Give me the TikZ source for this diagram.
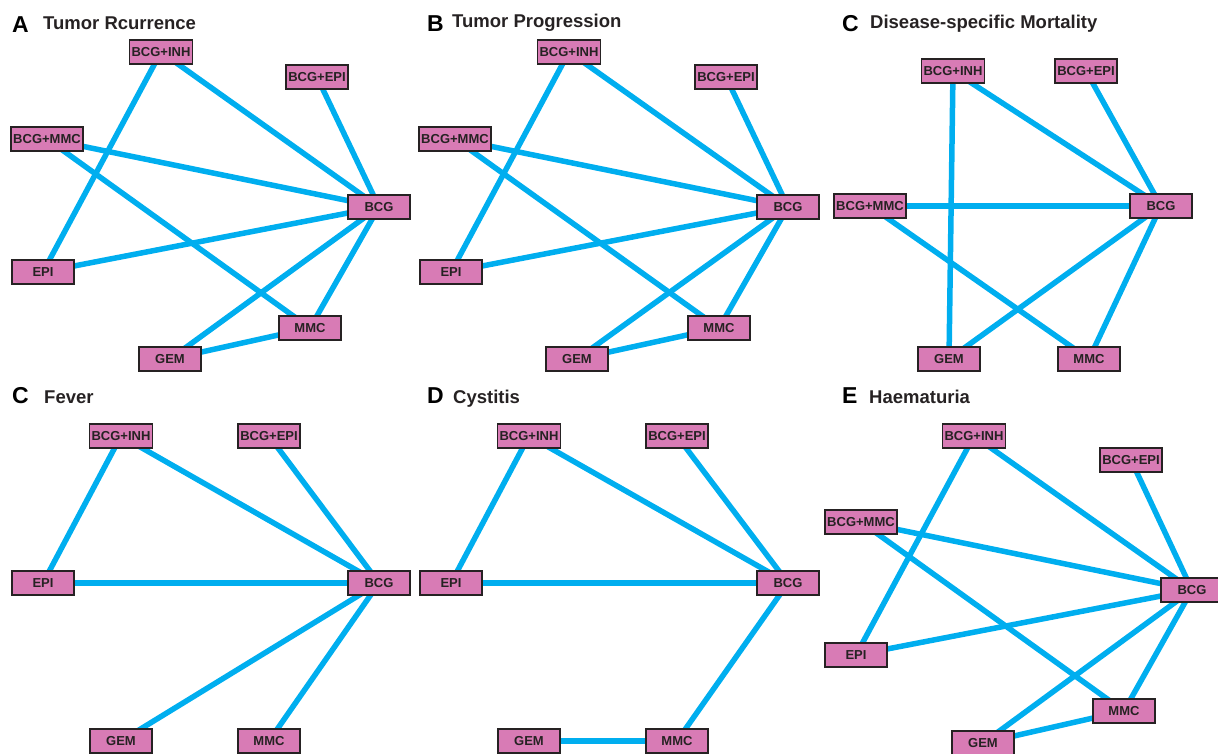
\documentclass[tikz,border=0pt]{standalone}
\usepackage{fontspec}
\setmainfont{Liberation Sans}
\usetikzlibrary{positioning}
\pgfdeclarelayer{background}
\pgfsetlayers{background,main}
\definecolor{drugfill}{HTML}{D87BB5}
\definecolor{linkcol}{HTML}{00AEEF}
\definecolor{edgecol}{HTML}{262223}
\tikzset{
    every node/.style={font=\bfseries},
    drug/.style={
        rectangle, draw=edgecol, line width=1.8pt, fill=drugfill,
        minimum width=62pt, minimum height=24pt, inner xsep=2pt,
        font=\fontsize{13}{13}\selectfont\bfseries, text=edgecol,
    },
    link/.style={linkcol, line width=5.5pt},
    panel/.style={anchor=base west, inner sep=0pt,
        font=\fontsize{23}{23}\selectfont\bfseries},
    ptitle/.style={anchor=base west, inner sep=0pt, text=edgecol,
        font=\fontsize{18.5}{18.5}\selectfont\bfseries},
}

\begin{document}
\begin{tikzpicture}[x=1pt, y=-1pt]
\useasboundingbox (0,0) rectangle (1218,753);

% ── A: Tumor Rcurrence ─────────────────────────────────────────────
\node[panel]  (tA) at (12,32) {A};
\node[ptitle] (hA) at (43,29) {Tumor Rcurrence};
\node[drug] (aInh) at (161,52)  {BCG+INH};
\node[drug] (aEpi) at (317,77)  {BCG+EPI};
\node[drug] (aMmc) at (47,139)  {BCG+MMC};
\node[drug] (aBcg) at (379,207) {BCG};
\node[drug] (aE)   at (43,272)  {EPI};
\node[drug] (aM)   at (310,328) {MMC};
\node[drug] (aG)   at (170,359) {GEM};
\begin{pgfonlayer}{background}
\foreach \u/\v in {aInh/aBcg, aInh/aE, aEpi/aBcg, aMmc/aBcg, aMmc/aM,
                   aE/aBcg, aBcg/aM, aBcg/aG, aG/aM}
    \draw[link] (\u.center) -- (\v.center);
\end{pgfonlayer}

% ── B: Tumor Progression ───────────────────────────────────────────
\node[panel]  (tB) at (427,31) {B};
\node[ptitle] (hB) at (452,27) {Tumor Progression};
\node[drug] (bInh) at (569,52)  {BCG+INH};
\node[drug] (bEpi) at (726,77)  {BCG+EPI};
\node[drug] (bMmc) at (455,139) {BCG+MMC};
\node[drug] (bBcg) at (788,207) {BCG};
\node[drug] (bE)   at (451,272) {EPI};
\node[drug] (bM)   at (719,328) {MMC};
\node[drug] (bG)   at (577,359) {GEM};
\begin{pgfonlayer}{background}
\foreach \u/\v in {bInh/bBcg, bInh/bE, bEpi/bBcg, bMmc/bBcg, bMmc/bM,
                   bE/bBcg, bBcg/bM, bBcg/bG, bG/bM}
    \draw[link] (\u.center) -- (\v.center);
\end{pgfonlayer}

% ── C: Disease-specific Mortality ──────────────────────────────────
\node[panel]  (tC) at (842,31) {C};
\node[ptitle] (hC) at (870,28) {Disease-specific Mortality};
\node[drug] (cInh) at (953,71)   {BCG+INH};
\node[drug] (cEpi) at (1086,71)  {BCG+EPI};
\node[drug] (cMmc) at (870,206)  {BCG+MMC};
\node[drug] (cBcg) at (1161,206) {BCG};
\node[drug] (cG)   at (949,359)  {GEM};
\node[drug] (cM)   at (1089,359) {MMC};
\begin{pgfonlayer}{background}
\foreach \u/\v in {cInh/cG, cInh/cBcg, cEpi/cBcg, cMmc/cBcg, cMmc/cM,
                   cBcg/cG, cBcg/cM}
    \draw[link] (\u.center) -- (\v.center);
\end{pgfonlayer}

% ── C: Fever ───────────────────────────────────────────────────────
\node[panel]  (tF) at (12,403) {C};
\node[ptitle] (hF) at (44,403) {Fever};
\node[drug] (fInh) at (121,436) {BCG+INH};
\node[drug] (fEpi) at (269,436) {BCG+EPI};
\node[drug] (fE)   at (43,583)  {EPI};
\node[drug] (fBcg) at (379,583) {BCG};
\node[drug] (fG)   at (121,741) {GEM};
\node[drug] (fM)   at (269,741) {MMC};
\begin{pgfonlayer}{background}
\foreach \u/\v in {fInh/fE, fInh/fBcg, fEpi/fBcg, fE/fBcg, fBcg/fG, fBcg/fM}
    \draw[link] (\u.center) -- (\v.center);
\end{pgfonlayer}

% ── D: Cystitis ────────────────────────────────────────────────────
\node[panel]  (tD) at (427,403) {D};
\node[ptitle] (hD) at (453,403) {Cystitis};
\node[drug] (dInh) at (529,436) {BCG+INH};
\node[drug] (dEpi) at (677,436) {BCG+EPI};
\node[drug] (dE)   at (451,583) {EPI};
\node[drug] (dBcg) at (788,583) {BCG};
\node[drug] (dG)   at (529,741) {GEM};
\node[drug] (dM)   at (677,741) {MMC};
\begin{pgfonlayer}{background}
\foreach \u/\v in {dInh/dE, dInh/dBcg, dEpi/dBcg, dE/dBcg, dBcg/dM, dG/dM}
    \draw[link] (\u.center) -- (\v.center);
\end{pgfonlayer}

% ── E: Haematuria ──────────────────────────────────────────────────
\node[panel]  (tE) at (842,403) {E};
\node[ptitle] (hE) at (869,403) {Haematuria};
\node[drug] (eInh) at (974,436)  {BCG+INH};
\node[drug] (eEpi) at (1131,460) {BCG+EPI};
\node[drug] (eMmc) at (861,522)  {BCG+MMC};
\node[drug] (eBcg) at (1192,590) {BCG};
\node[drug] (eE)   at (856,655)  {EPI};
\node[drug] (eM)   at (1124,711) {MMC};
\node[drug] (eG)   at (983,743)  {GEM};
\begin{pgfonlayer}{background}
\foreach \u/\v in {eInh/eBcg, eInh/eE, eEpi/eBcg, eMmc/eBcg, eMmc/eM,
                   eE/eBcg, eBcg/eM, eBcg/eG, eG/eM}
    \draw[link] (\u.center) -- (\v.center);
\end{pgfonlayer}

\end{tikzpicture}
\end{document}
